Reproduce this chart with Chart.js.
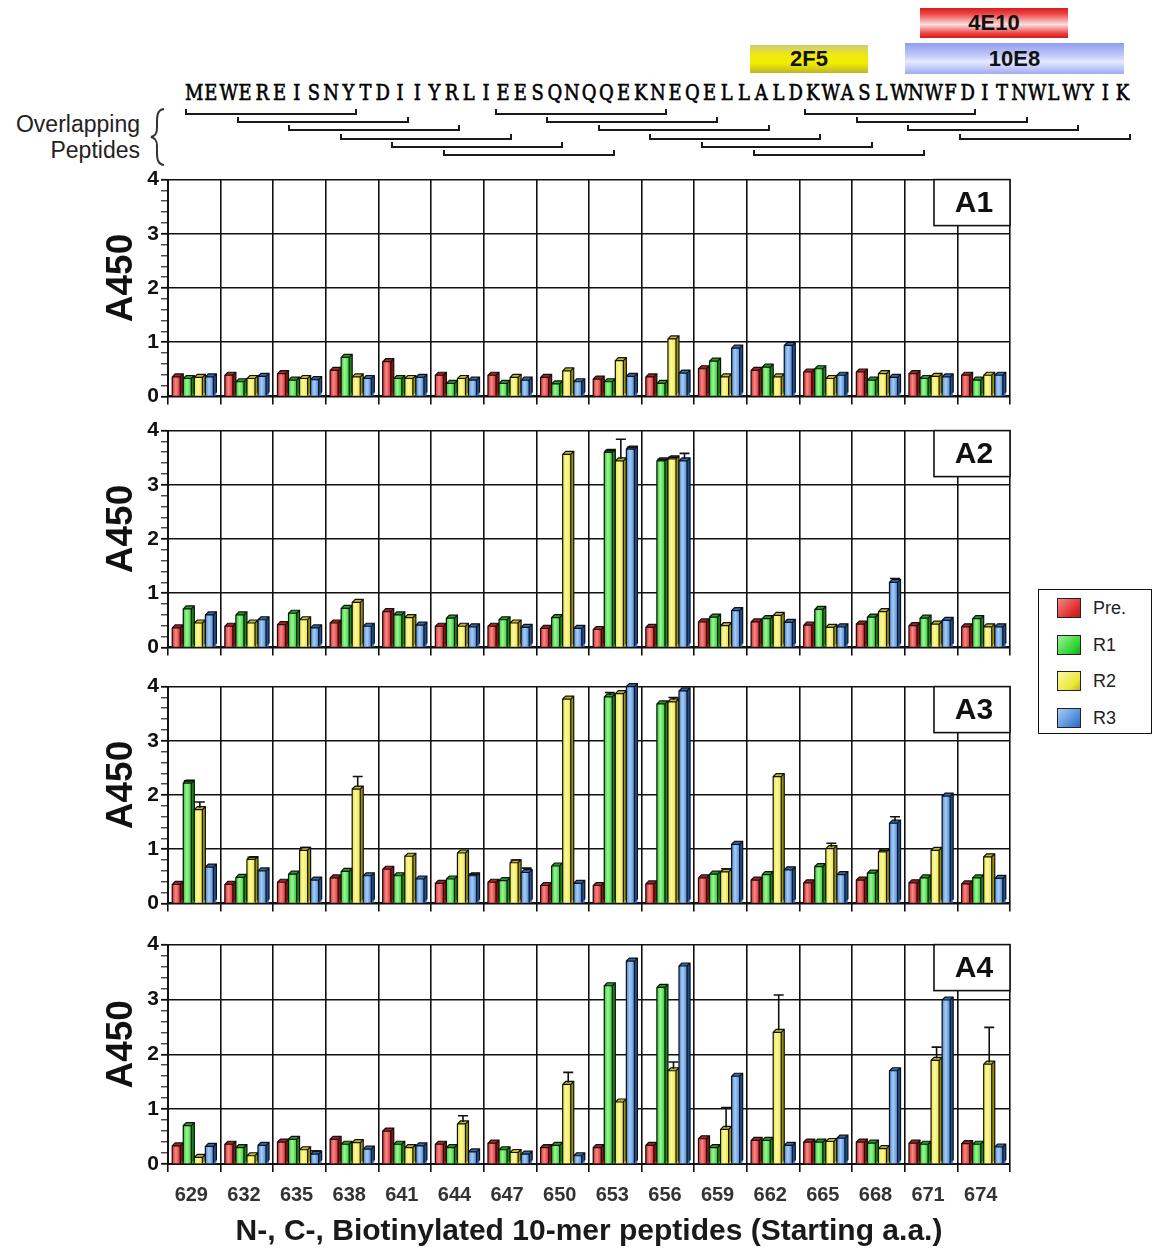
<!DOCTYPE html>
<html>
<head>
<meta charset="utf-8">
<script src="https://cdn.jsdelivr.net/npm/chart.js@4.4.1/dist/chart.umd.min.js"></script>
<style>
  html, body { margin: 0; padding: 0; background: #fff; }
  body { width: 1154px; height: 1251px; position: relative; overflow: hidden;
         font-family: "Liberation Sans", Arial, sans-serif; color: #111; }
  canvas { position: absolute; }
  .ab { position: absolute; font-weight: bold; font-size: 22px; text-align: center; color: #111; }
  .seqch { position: absolute; top: 83px; width: 17.2px; text-align: center;
           font-family: "DejaVu Serif", "Liberation Serif", serif; font-weight: normal;
           font-size: 18px; line-height: 24px; color: #000; -webkit-text-stroke: 0.5px #000;
           transform: scaleY(1.22); transform-origin: 50% 100%; }
  .br { position: absolute; height: 6px; border: 2px solid #1a1a1a; border-top: none; box-sizing: border-box; }
  .side { position: absolute; font-size: 23px; color: #222; text-align: right; width: 140px; left: 0; }
  #legend { position: absolute; left: 1038px; top: 589px; width: 114px; height: 145px;
            border: 1.6px solid #111; box-sizing: border-box; background: #fff; }
  .lg { position: absolute; left: 18px; width: 24px; height: 20px; border: 1.4px solid #222; box-sizing: border-box; }
  .lt { position: absolute; left: 54px; font-size: 18px; color: #222; line-height: 20px; }
</style>
</head>
<body>

<div class="ab" style="left:920px;top:8px;width:148px;height:30px;line-height:30px;background:linear-gradient(#d81c1c,#f04646 20%,#fbe0e0 55%,#ee4040 85%,#d41c1c)">4E10</div>
<div class="ab" style="left:905px;top:43px;width:219px;height:31px;line-height:31px;background:linear-gradient(#8e9cf0,#c8d0fb 45%,#e6eaff 60%,#9eacf4)">10E8</div>
<div class="ab" style="left:750px;top:45px;width:118px;height:28px;line-height:28px;background:linear-gradient(#cfcb7a,#eeea10 35%,#f2ee00 65%,#bdb52a)">2F5</div>

<div id="seq"></div>
<div id="brackets"></div>

<div class="side" style="top:111px;">Overlapping</div>
<div class="side" style="top:137px;">Peptides</div>
<svg style="position:absolute;left:148px;top:108px" width="20" height="58" viewBox="0 0 20 58">
  <path d="M16 1 C8 2,9 10,9 20 C9 26,7 28,3 29 C7 30,9 32,9 38 C9 48,8 56,16 57" fill="none" stroke="#333" stroke-width="2"/>
</svg>

<div id="legend"></div>

<script>
// Peptide start positions (categories) and antibody response series
const categories = [629, 632, 635, 638, 641, 644, 647, 650, 653, 656, 659, 662, 665, 668, 671, 674];
const seriesNames = ['Pre.', 'R1', 'R2', 'R3'];
const sequence = 'MEWEREISNYTDIIYRLIEESQNQQEKNEQELLALDKWASLWNWFDITNWLWYIK';
const sequenceStart = 629;
const peptideLength = 10;
const panelNames = ['A1', 'A2', 'A3', 'A4'];
const xTitle = 'N-, C-, Biotinylated 10-mer peptides (Starting a.a.)';
const yTitle = 'A450';

// Panel A1
const a1Pre = [0.36, 0.39, 0.42, 0.48, 0.64, 0.39, 0.39, 0.35, 0.32, 0.36, 0.51, 0.48, 0.45, 0.45, 0.42, 0.39];
const a1R1  = [0.33, 0.27, 0.30, 0.72, 0.33, 0.24, 0.24, 0.23, 0.27, 0.24, 0.65, 0.54, 0.51, 0.30, 0.33, 0.30];
const a1R2  = [0.35, 0.33, 0.33, 0.36, 0.33, 0.33, 0.35, 0.47, 0.66, 1.06, 0.36, 0.36, 0.33, 0.42, 0.37, 0.39];
const a1R3  = [0.36, 0.37, 0.31, 0.33, 0.35, 0.30, 0.30, 0.27, 0.37, 0.43, 0.89, 0.94, 0.39, 0.35, 0.36, 0.39];
const a1ErrPre = [0, 0, 0, 0, 0, 0, 0, 0, 0, 0, 0, 0, 0, 0, 0, 0];
const a1ErrR1  = [0, 0, 0, 0, 0, 0, 0, 0, 0, 0, 0, 0, 0, 0, 0, 0];
const a1ErrR2  = [0, 0, 0, 0, 0, 0, 0, 0, 0, 0, 0, 0, 0, 0, 0, 0];
const a1ErrR3  = [0, 0, 0, 0, 0, 0, 0, 0, 0, 0, 0, 0, 0, 0, 0, 0];

// Panel A2
const a2Pre = [0.36, 0.39, 0.42, 0.45, 0.66, 0.39, 0.39, 0.35, 0.33, 0.37, 0.47, 0.47, 0.41, 0.43, 0.40, 0.38];
const a2R1  = [0.71, 0.60, 0.63, 0.72, 0.60, 0.54, 0.51, 0.55, 3.60, 3.44, 0.56, 0.53, 0.70, 0.56, 0.54, 0.53];
const a2R2  = [0.45, 0.45, 0.51, 0.83, 0.55, 0.39, 0.45, 3.56, 3.44, 3.48, 0.40, 0.59, 0.37, 0.66, 0.43, 0.38];
const a2R3  = [0.60, 0.51, 0.36, 0.39, 0.41, 0.38, 0.37, 0.35, 3.66, 3.44, 0.68, 0.46, 0.38, 1.20, 0.50, 0.38];
const a2ErrPre = [0, 0, 0, 0, 0, 0, 0, 0, 0, 0, 0, 0, 0, 0, 0, 0];
const a2ErrR1  = [0, 0, 0, 0, 0, 0, 0, 0, 0.03, 0.03, 0, 0, 0, 0, 0, 0];
const a2ErrR2  = [0, 0, 0, 0, 0, 0, 0, 0, 0.40, 0.03, 0, 0, 0, 0, 0, 0];
const a2ErrR3  = [0, 0, 0, 0, 0, 0, 0, 0, 0.03, 0.14, 0, 0, 0, 0.07, 0, 0];

// Panel A3
const a3Pre = [0.35, 0.35, 0.39, 0.47, 0.63, 0.37, 0.39, 0.33, 0.33, 0.36, 0.47, 0.43, 0.38, 0.43, 0.38, 0.36];
const a3R1  = [2.22, 0.48, 0.54, 0.59, 0.51, 0.45, 0.42, 0.69, 3.81, 3.68, 0.54, 0.53, 0.68, 0.56, 0.47, 0.47];
const a3R2  = [1.73, 0.81, 0.98, 2.11, 0.87, 0.93, 0.75, 3.77, 3.87, 3.72, 0.58, 2.34, 1.01, 0.95, 0.98, 0.86];
const a3R3  = [0.67, 0.60, 0.43, 0.51, 0.45, 0.51, 0.57, 0.37, 4.00, 3.92, 1.09, 0.62, 0.53, 1.48, 1.98, 0.46];
const a3ErrPre = [0, 0, 0, 0, 0, 0, 0, 0, 0, 0, 0, 0, 0, 0, 0, 0];
const a3ErrR1  = [0.04, 0, 0, 0, 0, 0, 0, 0, 0.08, 0, 0, 0, 0, 0, 0, 0];
const a3ErrR2  = [0.14, 0.04, 0.05, 0.23, 0, 0, 0.05, 0, 0, 0.08, 0.06, 0, 0.10, 0.03, 0, 0];
const a3ErrR3  = [0, 0, 0, 0, 0, 0.03, 0.08, 0, 0, 0, 0, 0, 0, 0.12, 0, 0];

// Panel A4
const a4Pre = [0.33, 0.36, 0.40, 0.45, 0.60, 0.36, 0.38, 0.30, 0.30, 0.34, 0.46, 0.43, 0.40, 0.40, 0.38, 0.37];
const a4R1  = [0.70, 0.30, 0.45, 0.36, 0.36, 0.30, 0.26, 0.34, 3.25, 3.22, 0.30, 0.43, 0.40, 0.38, 0.36, 0.36];
const a4R2  = [0.12, 0.15, 0.26, 0.39, 0.30, 0.73, 0.21, 1.45, 1.13, 1.70, 0.63, 2.40, 0.41, 0.28, 1.89, 1.82];
const a4R3  = [0.32, 0.34, 0.18, 0.27, 0.33, 0.22, 0.18, 0.15, 3.70, 3.61, 1.60, 0.34, 0.47, 1.70, 2.99, 0.31];
const a4ErrPre = [0, 0, 0, 0, 0, 0, 0, 0, 0, 0, 0, 0, 0, 0, 0, 0];
const a4ErrR1  = [0, 0, 0, 0, 0, 0, 0, 0, 0, 0, 0, 0, 0, 0, 0, 0];
const a4ErrR2  = [0, 0, 0, 0, 0, 0.15, 0, 0.22, 0, 0.16, 0.40, 0.68, 0, 0, 0.24, 0.67];
const a4ErrR3  = [0, 0, 0.06, 0, 0, 0, 0, 0, 0, 0, 0, 0, 0, 0, 0, 0];

const panelValues = [
  [a1Pre, a1R1, a1R2, a1R3],
  [a2Pre, a2R1, a2R2, a2R3],
  [a3Pre, a3R1, a3R2, a3R3],
  [a4Pre, a4R1, a4R2, a4R3]
];
const panelErrors = [
  [a1ErrPre, a1ErrR1, a1ErrR2, a1ErrR3],
  [a2ErrPre, a2ErrR1, a2ErrR2, a2ErrR3],
  [a3ErrPre, a3ErrR1, a3ErrR2, a3ErrR3],
  [a4ErrPre, a4ErrR1, a4ErrR2, a4ErrR3]
];

// Shading for the bars: base face colour, highlight, side and top-cap tones
const barStyles = [
  { base: '#e02a2a', light: '#f38a8a', side: '#8a1212', cap: '#b02020' },
  { base: '#2ed42e', light: '#9ff29a', side: '#178517', cap: '#22a022' },
  { base: '#ece636', light: '#fbf8a8', side: '#9a9010', cap: '#c0b828' },
  { base: '#4a8ada', light: '#a9ccf4', side: '#1a4f96', cap: '#2f6ab4' }
];

// ---- sequence and overlapping peptide brackets ----
const seqLeft = 185, cellW = 17.2;
const seqDiv = document.getElementById('seq');
for (let i = 0; i < sequence.length; i++) {
  const s = document.createElement('div');
  s.className = 'seqch';
  s.style.left = (seqLeft + i * cellW) + 'px';
  s.textContent = sequence[i];
  seqDiv.appendChild(s);
}
const brDiv = document.getElementById('brackets');
categories.forEach((start, i) => {
  const row = i % 6;
  const b = document.createElement('div');
  b.className = 'br';
  b.style.left = (seqLeft + (start - sequenceStart) * cellW) + 'px';
  b.style.width = (peptideLength * cellW) + 'px';
  b.style.top = (109 + row * 8.2) + 'px';
  brDiv.appendChild(b);
});

// ---- legend ----
const legend = document.getElementById('legend');
seriesNames.forEach((name, i) => {
  const st = barStyles[i];
  const sw = document.createElement('div');
  sw.className = 'lg';
  sw.style.top = (8 + i * 36.5) + 'px';
  sw.style.background = `linear-gradient(135deg, ${st.light}, ${st.base} 70%, ${st.cap})`;
  legend.appendChild(sw);
  const t = document.createElement('div');
  t.className = 'lt';
  t.style.top = (8 + i * 36.5) + 'px';
  t.textContent = name;
  legend.appendChild(t);
});

// ---- charts ----
Chart.defaults.font.family = '"Liberation Sans", Arial, sans-serif';
Chart.defaults.color = '#111';

const depth = 3;
const barLook = {
  id: 'barLook',
  afterDatasetsDraw(chart) {
    const ctx = chart.ctx;
    const yScale = chart.scales.y;
    ctx.save();
    chart.data.datasets.forEach((ds, di) => {
      const st = barStyles[di];
      const meta = chart.getDatasetMeta(di);
      meta.data.forEach((el) => {
        const { x, y, base, width } = el.getProps(['x', 'y', 'base', 'width'], true);
        const l = x - width / 2, r = x + width / 2, fr = r - depth;
        const g = ctx.createLinearGradient(l, 0, fr, 0);
        g.addColorStop(0, st.base);
        g.addColorStop(0.45, st.light);
        g.addColorStop(1, st.base);
        ctx.fillStyle = g;
        ctx.fillRect(l, y, fr - l, base - y);
        // side
        ctx.fillStyle = st.side;
        ctx.beginPath();
        ctx.moveTo(fr, y); ctx.lineTo(r, y - depth); ctx.lineTo(r, base - depth); ctx.lineTo(fr, base);
        ctx.closePath(); ctx.fill();
        // top cap
        ctx.fillStyle = st.cap;
        ctx.beginPath();
        ctx.moveTo(l, y); ctx.lineTo(l + depth, y - depth); ctx.lineTo(r, y - depth); ctx.lineTo(fr, y);
        ctx.closePath(); ctx.fill();
        // outline
        ctx.strokeStyle = '#111';
        ctx.lineWidth = 1.2;
        ctx.beginPath();
        ctx.moveTo(l, base); ctx.lineTo(l, y); ctx.lineTo(l + depth, y - depth); ctx.lineTo(r, y - depth);
        ctx.lineTo(r, base - depth); ctx.moveTo(l, y); ctx.lineTo(fr, y); ctx.lineTo(r, y - depth);
        ctx.moveTo(fr, y); ctx.lineTo(fr, base);
        ctx.stroke();
      });
    });
    // error whiskers
    chart.data.datasets.forEach((ds, di) => {
      const meta = chart.getDatasetMeta(di);
      meta.data.forEach((el, i) => {
        const e = ds.errors[i];
        if (!e) return;
        const { x } = el.getProps(['x'], true);
        const y0 = yScale.getPixelForValue(ds.data[i]);
        const y1 = yScale.getPixelForValue(ds.data[i] + e);
        ctx.strokeStyle = '#111';
        ctx.lineWidth = 1.6;
        ctx.beginPath();
        ctx.moveTo(x, y0 - 2); ctx.lineTo(x, y1);
        ctx.moveTo(x - 5, y1); ctx.lineTo(x + 5, y1);
        ctx.stroke();
      });
    });
    ctx.restore();
  },
  afterDraw(chart, args, opts) {
    const { right, top, bottom } = chart.chartArea;
    const ctx = chart.ctx;
    const w = 76, h = 46;
    ctx.save();
    // panel name box
    ctx.fillStyle = '#fff';
    ctx.fillRect(right - w, top, w, h);
    ctx.strokeStyle = '#111';
    ctx.lineWidth = 1.6;
    ctx.strokeRect(right - w, top, w, h);
    ctx.fillStyle = '#111';
    ctx.font = 'bold 30px "Liberation Sans", Arial, sans-serif';
    ctx.textAlign = 'center';
    ctx.textBaseline = 'middle';
    ctx.fillText(opts.label, right - w / 2 + 2, top + h / 2 + 1);
    // y-axis title, sitting a little above the plot's middle
    ctx.translate(24, (top + bottom) / 2 - 10);
    ctx.rotate(-Math.PI / 2);
    ctx.font = 'bold 37px "Liberation Sans", Arial, sans-serif';
    ctx.fillText(yTitle, 0, 0);
    ctx.restore();
  }
};

const plotTops = [177, 428, 684, 942];
const plotHeight = 222;
const padTop = 12;

panelNames.forEach((name, k) => {
  const last = k === panelNames.length - 1;
  const bottomSpace = last ? 86 : 12;
  const cv = document.createElement('canvas');
  cv.width = 920;
  cv.height = padTop + plotHeight + bottomSpace;
  cv.style.left = '98px';
  cv.style.top = (plotTops[k] - padTop) + 'px';
  document.body.appendChild(cv);

  new Chart(cv, {
    type: 'bar',
    data: {
      labels: categories.map(String),
      datasets: seriesNames.map((s, i) => ({
        label: s,
        data: panelValues[k][i],
        errors: panelErrors[k][i],
        backgroundColor: barStyles[i].base,
        borderWidth: 0,
        categoryPercentage: 0.84,
        barPercentage: 1.0
      }))
    },
    options: {
      responsive: false,
      animation: false,
      layout: { padding: { top: padTop, right: 8, left: 0, bottom: 0 } },
      plugins: {
        legend: { display: false },
        tooltip: { enabled: false },
        barLook: { label: name }
      },
      scales: {
        x: {
          offset: true,
          afterFit(scale) { scale.height = bottomSpace; },
          grid: { offset: true, color: '#111', lineWidth: 1.6, tickLength: 8, tickColor: '#111', tickWidth: 1.6 },
          border: { color: '#111', width: 2 },
          ticks: {
            display: last, autoSkip: false, maxRotation: 0, padding: 11, labelOffset: -3,
            color: '#333', font: { size: 20, weight: 'bold' }
          },
          title: {
            display: last, text: xTitle, color: '#1a1a1a',
            font: { size: 30, weight: 'bold' }, padding: { top: 4, bottom: 0 }
          }
        },
        y: {
          min: 0, max: 4,
          afterFit(scale) { scale.width = 70; },
          grid: {
            color: (c) => Math.abs(c.tick.value - Math.round(c.tick.value)) < 1e-6 ? '#111' : 'rgba(0,0,0,0)',
            lineWidth: 1.6,
            tickLength: 7,
            tickColor: '#111',
            tickWidth: (c) => Math.abs(c.tick.value - Math.round(c.tick.value)) < 1e-6 ? 1.8 : 1.1
          },
          border: { color: '#111', width: 2 },
          ticks: {
            stepSize: 0.2, autoSkip: false, padding: 2,
            color: '#111', font: { size: 21, weight: 'bold' },
            callback: (v) => Math.abs(v - Math.round(v)) < 1e-6 ? String(Math.round(v)) : ''
          },
          title: { display: false }
        }
      }
    },
    plugins: [barLook]
  });
});
</script>
</body>
</html>
